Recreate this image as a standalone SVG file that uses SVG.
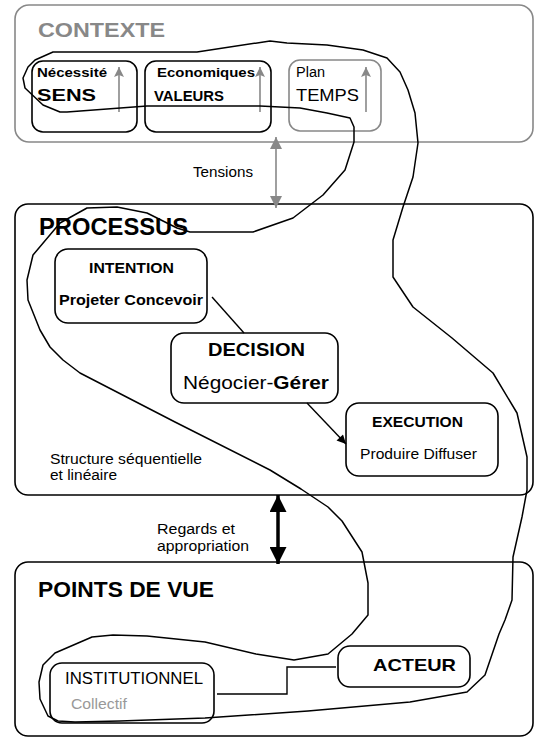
<svg xmlns="http://www.w3.org/2000/svg" width="536" height="739" viewBox="0 0 536 739">
<style>
text{font-family:"Liberation Sans",Arial,sans-serif;fill:#000}
.b{font-weight:bold}
.g{fill:#888}
.box{fill:none;stroke:#000;stroke-width:1.6}
.gbox{fill:none;stroke:#888;stroke-width:1.6}
.gl{stroke:#888;stroke-width:1.6;fill:none}
.bl{stroke:#000;stroke-width:1.4;fill:none}
.loop{fill:none;stroke:#000;stroke-width:1.5;stroke-linejoin:round}
</style>
<defs>
<marker id="ga" viewBox="0 0 10 10" refX="10" refY="5" markerWidth="13" markerHeight="10" markerUnits="userSpaceOnUse" orient="auto-start-reverse"><path d="M0,0 L10,5 L0,10 L2,5 Z" fill="#888"/></marker>
<marker id="ta" viewBox="0 0 10 10" refX="10" refY="5" markerWidth="15" markerHeight="12" markerUnits="userSpaceOnUse" orient="auto-start-reverse"><path d="M0,0 L10,5 L0,10 Z" fill="#888"/></marker>
<marker id="ra" viewBox="0 0 10 10" refX="10" refY="5" markerWidth="21" markerHeight="17" markerUnits="userSpaceOnUse" orient="auto-start-reverse"><path d="M0,0 L10,5 L0,10 Z" fill="#000"/></marker>
<marker id="ba" viewBox="0 0 10 10" refX="10" refY="5" markerWidth="12" markerHeight="9" markerUnits="userSpaceOnUse" orient="auto"><path d="M0,0 L10,5 L0,10 Z" fill="#000"/></marker>
</defs>
<rect width="536" height="739" fill="#fff"/>

<g id="contexte">
<rect class="gbox" x="15" y="5" width="518" height="137" rx="14"/>
<text class="b g" x="38" y="37" font-size="20" textLength="127" lengthAdjust="spacingAndGlyphs">CONTEXTE</text>
</g>
<g id="sens">
<rect class="box" x="32" y="61" width="105" height="71" rx="11"/>
<text class="b" x="37" y="77" font-size="13" textLength="70" lengthAdjust="spacingAndGlyphs">Nécessité</text>
<text class="b" x="37" y="101" font-size="17" textLength="59" lengthAdjust="spacingAndGlyphs">SENS</text>
<line class="gl" x1="119" y1="112" x2="119" y2="67" marker-end="url(#ga)"/>
</g>
<g id="valeurs">
<rect class="box" x="145" y="61" width="126" height="71" rx="11"/>
<text class="b" x="157" y="77" font-size="13.5" textLength="98" lengthAdjust="spacingAndGlyphs">Economiques</text>
<text class="b" x="154" y="101" font-size="15" textLength="70" lengthAdjust="spacingAndGlyphs">VALEURS</text>
<line class="gl" x1="260" y1="112" x2="260" y2="67" marker-end="url(#ga)"/>
</g>
<g id="temps">
<rect class="gbox" x="289" y="60" width="92" height="71" rx="11"/>
<text x="296" y="77" font-size="14" textLength="29" lengthAdjust="spacingAndGlyphs">Plan</text>
<text x="296" y="101" font-size="17" textLength="63" lengthAdjust="spacingAndGlyphs">TEMPS</text>
<line class="gl" x1="366" y1="112" x2="366" y2="67" marker-end="url(#ga)"/>
</g>

<g id="processus">
<rect class="box" x="15" y="204" width="518" height="291" rx="13"/>
<text class="b" x="39" y="235" font-size="23" textLength="149" lengthAdjust="spacingAndGlyphs">PROCESSUS</text>
<text x="50" y="464" font-size="14" textLength="152" lengthAdjust="spacingAndGlyphs">Structure séquentielle</text>
<text x="50" y="480" font-size="14" textLength="67" lengthAdjust="spacingAndGlyphs">et linéaire</text>
</g>
<g id="intention">
<rect class="box" x="55" y="249" width="152" height="74" rx="13"/>
<text class="b" x="89" y="273" font-size="15.5" textLength="85" lengthAdjust="spacingAndGlyphs">INTENTION</text>
<text class="b" x="59" y="305" font-size="15.5" textLength="144" lengthAdjust="spacingAndGlyphs">Projeter Concevoir</text>
</g>
<g id="decision">
<rect class="box" x="171" y="333" width="167" height="70" rx="13"/>
<text class="b" x="208" y="356" font-size="18" textLength="97" lengthAdjust="spacingAndGlyphs">DECISION</text>
<text x="183" y="389" font-size="18" textLength="146" lengthAdjust="spacingAndGlyphs">Négocier-<tspan class="b">Gérer</tspan></text>
</g>
<g id="execution">
<rect class="box" x="346" y="403" width="152" height="73" rx="13"/>
<text class="b" x="372" y="427" font-size="15.5" textLength="91" lengthAdjust="spacingAndGlyphs">EXECUTION</text>
<text x="360" y="459" font-size="15" textLength="117" lengthAdjust="spacingAndGlyphs">Produire Diffuser</text>
</g>

<g id="pointsdevue">
<rect class="box" x="15" y="562" width="518" height="174" rx="13"/>
<text class="b" x="38" y="597" font-size="22" textLength="176" lengthAdjust="spacingAndGlyphs">POINTS DE VUE</text>
</g>
<g id="institutionnel">
<rect class="box" x="50" y="663" width="164" height="60" rx="12"/>
<text x="65" y="684" font-size="16" textLength="138" lengthAdjust="spacingAndGlyphs">INSTITUTIONNEL</text>
<text x="71" y="709" font-size="15.5" fill="#999" style="fill:#999" textLength="56" lengthAdjust="spacingAndGlyphs">Collectif</text>
</g>
<g id="acteur">
<rect class="box" x="338" y="646" width="132" height="41" rx="12"/>
<text class="b" x="373" y="671" font-size="17" textLength="83" lengthAdjust="spacingAndGlyphs">ACTEUR</text>
</g>

<g id="connecteurs">
<line class="gl" x1="276" y1="137" x2="276" y2="208" marker-start="url(#ta)" marker-end="url(#ta)"/>
<text x="193" y="177" font-size="15" textLength="60" lengthAdjust="spacingAndGlyphs">Tensions</text>
<line x1="278" y1="495" x2="278" y2="564" stroke="#000" stroke-width="3.5" marker-start="url(#ra)" marker-end="url(#ra)"/>
<text x="157" y="534" font-size="15.5" textLength="78" lengthAdjust="spacingAndGlyphs">Regards et</text>
<text x="157" y="551" font-size="15.5" textLength="92" lengthAdjust="spacingAndGlyphs">appropriation</text>
<line class="bl" x1="212" y1="297" x2="244" y2="333"/>
<line class="bl" x1="307" y1="403" x2="346" y2="444" marker-end="url(#ba)"/>
<polyline class="bl" points="217,694 287,694 287,667 336,667"/>
</g>

<g id="boucle">
<path class="loop" d="M35,60 L53,52 L197,52 L270,41 L287,43 L327,45 L363,50 L387,58 L400,72 L408,90 L415,113 L418,143 L413,177 L403,207 L393,240 L393,277 L413,307 L452,338 L493,373 L517,413 L527,457 L527,490 L522,517 L513,557 L512,600 L505,620 L499,634 L485,675 L467,692 L410,702 L308,711 L205,718 L120,721 L75,722 L58,721 L48,716 L40,699 L39,682 L43,665 L55,653 L92,637 L113,635 L147,636 L205,642 L256,654 L294,660 L328,654 L352,634 L368,615 L368,583 L362,552 L342,521 L328,507 L301,489 L270,470 L175,422 L80,373 L63,360 L50,347 L40,330 L28,300 L27,280 L33,255 L60,223 L87,208 L117,207 L147,213 L177,228 L190,232 L253,232 L293,218 L323,195 L345,170 L354,142 L354,127 L350,118 L327,113 L300,108 L260,106 L147,106 L67,112 L60,112 L43,105 L25,88 L23,78 L28,67 Z"/>
</g>
</svg>
